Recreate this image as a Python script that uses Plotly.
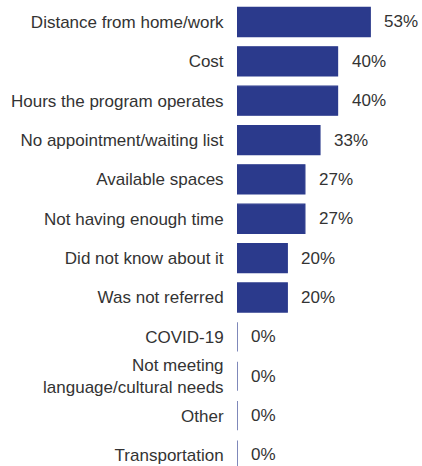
import plotly.graph_objects as go

categories = [
    "Distance from home/work",
    "Cost",
    "Hours the program operates",
    "No appointment/waiting list",
    "Available spaces",
    "Not having enough time",
    "Did not know about it",
    "Was not referred",
    "COVID-19",
    "Not meeting<br>language/cultural needs",
    "Other",
    "Transportation",
]
values = [53, 40, 40, 33, 27, 27, 20, 20, 0, 0, 0, 0]
labels = [f"{v}%" for v in values]

BAR = "#2b3a8c"
TXT = "#333333"
FONT = "Liberation Sans, Arial, sans-serif"

fig = go.Figure()
fig.add_trace(go.Bar(
    y=categories, x=values, orientation="h",
    marker=dict(color=BAR, line=dict(color=BAR, width=1.2)),
    width=0.74, hoverinfo="skip",
))
for c, v, t in zip(categories, values, labels):
    fig.add_annotation(x=v, y=c, text=t, showarrow=False, xanchor="left",
                       xshift=12, font=dict(family=FONT, size=17, color=TXT))

fig.update_layout(
    width=422, height=466,
    margin=dict(l=237, r=9, t=0, b=0),
    paper_bgcolor="white", plot_bgcolor="white",
    showlegend=False,
    font=dict(family=FONT, size=17, color=TXT),
    xaxis=dict(range=[0, 70], visible=False, showgrid=False, zeroline=False),
    yaxis=dict(autorange=False, range=[11.28, -0.558], showgrid=False, zeroline=False,
               showline=False, ticks="outside", ticklen=9, tickcolor="rgba(0,0,0,0)",
               tickfont=dict(family=FONT, size=17, color=TXT)),
)
fig.write_html(
    "out.html",
    config={"displayModeBar": False},
    post_script="document.body.style.margin='0';document.body.style.overflow='hidden';",
)
